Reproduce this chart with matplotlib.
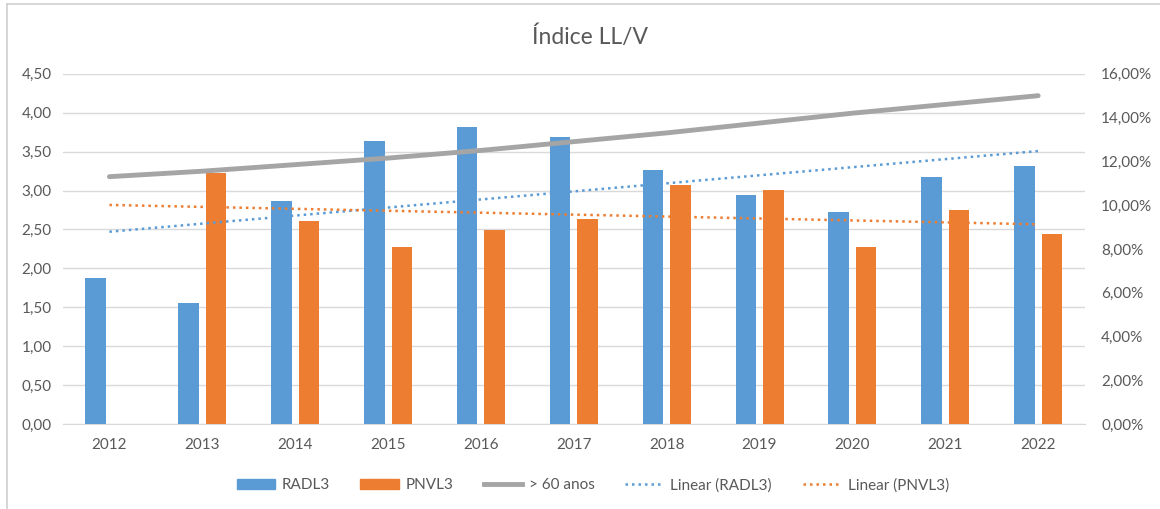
import numpy as np
import matplotlib.pyplot as plt
from matplotlib.lines import Line2D
from matplotlib.patches import Patch
from matplotlib.ticker import FuncFormatter

plt.rcParams['font.family'] = ['Lato', 'DejaVu Sans']

# data
anos = [2012, 2013, 2014, 2015, 2016, 2017, 2018, 2019, 2020, 2021, 2022]
radl3 = [1.87, 1.55, 2.87, 3.64, 3.82, 3.69, 3.27, 2.94, 2.73, 3.18, 3.32]
pnvl3 = [np.nan, 3.22, 2.61, 2.28, 2.49, 2.64, 3.07, 3.01, 2.27, 2.75, 2.44]
acima_60 = [11.3, 11.55, 11.85, 12.15, 12.5, 12.9, 13.3, 13.75, 14.2, 14.6, 15.0]

azul = '#5B9BD5'
laranja = '#ED7D31'
cinza = '#A5A5A5'
texto = '#595959'

fig = plt.figure(figsize=(11.6, 5.09), dpi=100)
ax = fig.add_axes([0.0543, 0.167, 0.8807, 0.688])
x = np.arange(len(anos))
w = 0.22
off = 0.148

ax.bar(x - off, radl3, w, color=azul, zorder=3)
ax.bar(x + off, pnvl3, w, color=laranja, zorder=3)

# linear trend lines (like excel)
p1 = np.polyfit(x, radl3, 1)
ax.plot(x, np.polyval(p1, x), color=azul, lw=1.8, ls=(0, (1, 1.6)), zorder=4)
ok = ~np.isnan(np.array(pnvl3))
p2 = np.polyfit(x[ok], np.array(pnvl3)[ok], 1)
ax.plot(x, np.polyval(p2, x), color=laranja, lw=1.8, ls=(0, (1, 1.6)), zorder=4)

ax.set_ylim(0, 4.5)
ax.set_yticks(np.arange(0, 4.51, 0.5))
ax.yaxis.set_major_formatter(FuncFormatter(lambda v, p: f'{v:.2f}'.replace('.', ',')))
ax.set_xlim(-0.5, len(anos) - 0.5)
ax.set_xticks(x)
ax.set_xticklabels([str(a) for a in anos])
ax.grid(axis='y', color='#D9D9D9', lw=1, zorder=0)
for s in ['top', 'left', 'right']:
    ax.spines[s].set_visible(False)
ax.spines['bottom'].set_color('#D9D9D9')
ax.tick_params(length=0, colors=texto, labelsize=11)
ax.tick_params(axis='x', pad=10)
ax.tick_params(axis='y', pad=8)

ax2 = ax.twinx()
ax2.plot(x, acima_60, color=cinza, lw=3.5, solid_capstyle='round', zorder=5)
ax2.set_ylim(0, 16)
ax2.set_yticks(np.arange(0, 16.1, 2))
ax2.yaxis.set_major_formatter(FuncFormatter(lambda v, p: f'{v:.2f}%'.replace('.', ',')))
for s in ['top', 'left', 'right', 'bottom']:
    ax2.spines[s].set_visible(False)
ax2.tick_params(length=0, colors=texto, labelsize=11, pad=12)

fig.text(0.509, 0.927, 'Índice LL/V', ha='center', va='center', fontsize=16.5, color=texto)

handles = [Patch(color=azul), Patch(color=laranja),
           Line2D([], [], color=cinza, lw=3.5),
           Line2D([], [], color=azul, lw=1.8, ls=(0, (1, 1.6))),
           Line2D([], [], color=laranja, lw=1.8, ls=(0, (1, 1.6)))]
labels = ['RADL3', 'PNVL3', '> 60 anos', 'Linear (RADL3)', 'Linear (PNVL3)']
fig.legend(handles, labels, loc='center', bbox_to_anchor=(0.511, 0.047), ncol=5,
           frameon=False, fontsize=11, labelcolor=texto, handlelength=2.5,
           columnspacing=2.0, handletextpad=0.45)

# chart border (left and top visible)
fig.add_artist(Line2D([0.006, 0.006], [0.0, 0.992], color='#D0D0D0', lw=1.2))
fig.add_artist(Line2D([0.006, 1.0], [0.992, 0.992], color='#D0D0D0', lw=1.2))

fig.savefig('out.png', dpi=100)
